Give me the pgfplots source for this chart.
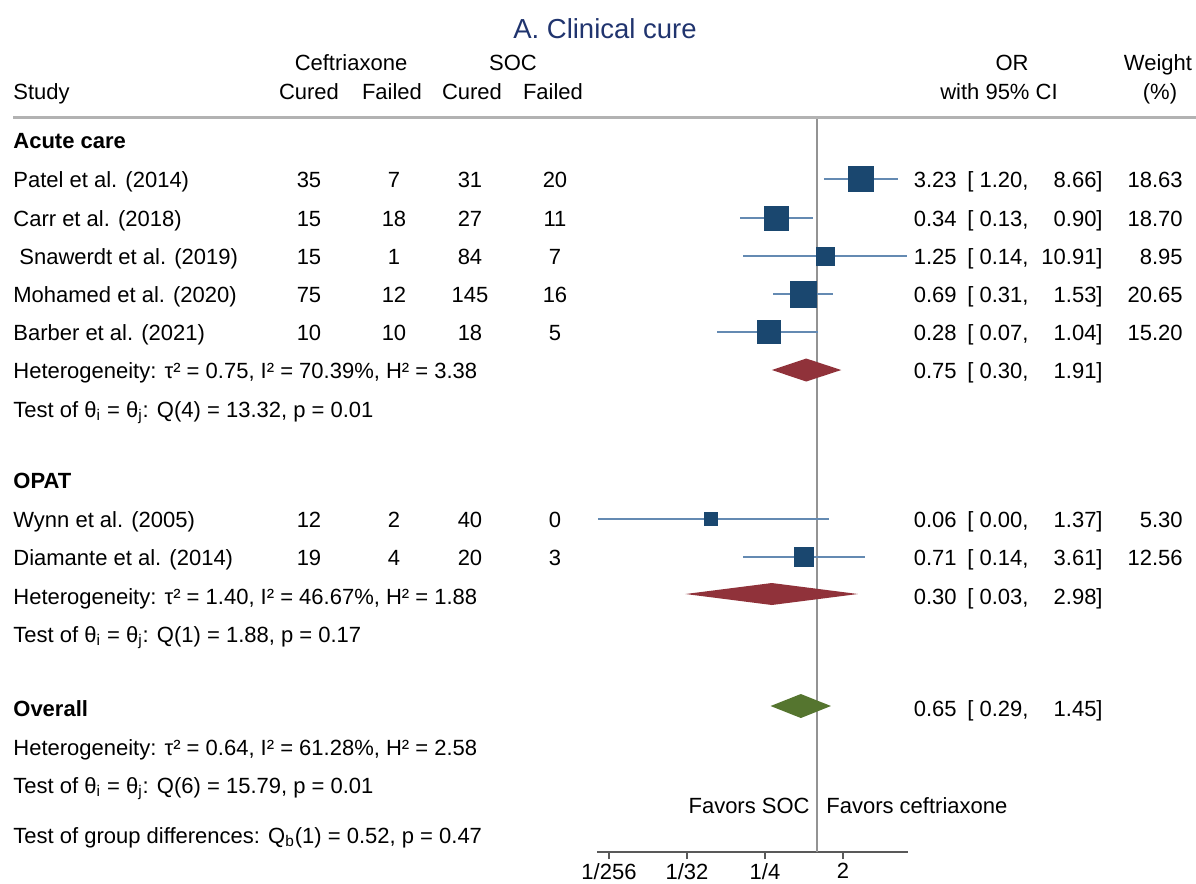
\documentclass[border=0pt]{standalone}
\usepackage{fontspec}
\setmainfont{Liberation Sans}
\usepackage{pgfplots}
\pgfplotsset{compat=1.18}
\definecolor{navy}{RGB}{26,71,111}
\definecolor{ciblue}{RGB}{100,138,178}
\definecolor{maroon}{RGB}{144,50,58}
\definecolor{fgreen}{RGB}{85,117,47}
\definecolor{titleblue}{RGB}{32,52,110}
% text helper: x, row centre y (pixels), anchor, text
\newcommand\T[4]{\node[anchor=#3, inner sep=0pt] at (#1,#2+8) {#4};}
\newcommand\cells[5]{\T{309}{#1}{base}{#2}\T{394}{#1}{base}{#3}\T{470}{#1}{base}{#4}\T{555}{#1}{base}{#5}}
\newcommand\orc[5]{\T{957}{#1}{base east}{#2}\T{967}{#1}{base west}{[ #3,}\T{1103}{#1}{base east}{#4]}\T{1183}{#1}{base east}{#5}}
% study: OR, lower, upper, row y, mark size
\newcommand\study[5]{%
  \addplot[ciblue, line width=1pt] coordinates {(#2,#4) (#3,#4)};
  \addplot[only marks, mark=square*, mark size=#5, color=navy, mark options={line width=0pt}] coordinates {(#1,#4)};
}
\begin{document}
\fontsize{11}{13}\selectfont
\begin{tikzpicture}[x=0.5pt,y=-0.5pt]
\path[use as bounding box] (0,0) rectangle (1196,884);
\begin{axis}[
  at={(298.5pt,-426pt)}, anchor=south west,
  scale only axis, width=155.5pt, height=366.5pt,
  xmode=log, log basis x=2,
  xmin=0.002837, xmax=11.314,
  ymin=119, ymax=852, y dir=reverse,
  axis x line*=bottom, axis y line=none,
  axis line style={black!65, line width=0.7pt},
  xtick={0.00390625,0.03125,0.25,2},
  xticklabels={1/256,1/32,1/4,2},
  tick align=outside, major tick length=3.5pt,
  tick style={black!65, line width=0.7pt},
  xticklabel style={font=\fontsize{11}{13}\selectfont, inner sep=2pt},
  clip=false,
]
\addplot[gray!85, line width=0.7pt] coordinates {(1,119) (1,852)};
\study{3.23}{1.20}{8.66}{179}{6.25pt}
\study{0.34}{0.13}{0.90}{218}{6pt}
\study{1.25}{0.14}{10.91}{256}{4.5pt}
\study{0.69}{0.31}{1.53}{294}{6.5pt}
\study{0.28}{0.07}{1.04}{332}{5.75pt}
\study{0.06}{0.0029}{1.37}{519}{3.25pt}
\study{0.71}{0.14}{3.61}{557}{4.75pt}
\addplot[fill=maroon, draw=none] coordinates {(0.30,370) (0.75,358.5) (1.91,370) (0.75,381.5)} -- cycle;
\addplot[fill=maroon, draw=none] coordinates {(0.03,594) (0.30,583) (2.98,594) (0.30,605)} -- cycle;
\addplot[fill=fgreen, draw=none] coordinates {(0.29,706) (0.65,694) (1.45,706) (0.65,718)} -- cycle;
\end{axis}
% title
\node[anchor=base, inner sep=0pt, font=\fontsize{13.75}{16}\selectfont, text=titleblue] at (605,38) {A. Clinical cure};
% headers
\T{351}{62}{base}{Ceftriaxone}
\T{513}{62}{base}{SOC}
\T{1012}{62}{base}{OR}
\T{1158}{62}{base}{Weight}
\T{13}{91}{base west}{Study}
\T{309}{91}{base}{Cured}
\T{392}{91}{base}{Failed}
\T{472}{91}{base}{Cured}
\T{553}{91}{base}{Failed}
\T{999}{91}{base}{with 95\% CI}
\T{1160}{91}{base}{(\%)}
\draw[gray!60, line width=1.5pt] (13,117) -- (1196,117);
% acute care
\T{13}{140}{base west}{\textbf{Acute care}}
\T{13}{179}{base west}{Patel et al. (2014)}\cells{179}{35}{7}{31}{20}\orc{179}{3.23}{1.20}{8.66}{18.63}
\T{13}{218}{base west}{Carr et al. (2018)}\cells{218}{15}{18}{27}{11}\orc{218}{0.34}{0.13}{0.90}{18.70}
\T{19}{256}{base west}{Snawerdt et al. (2019)}\cells{256}{15}{1}{84}{7}\orc{256}{1.25}{0.14}{10.91}{8.95}
\T{13}{294}{base west}{Mohamed et al. (2020)}\cells{294}{75}{12}{145}{16}\orc{294}{0.69}{0.31}{1.53}{20.65}
\T{13}{332}{base west}{Barber et al. (2021)}\cells{332}{10}{10}{18}{5}\orc{332}{0.28}{0.07}{1.04}{15.20}
\T{13}{370}{base west}{Heterogeneity: τ² = 0.75, I² = 70.39\%, H² = 3.38}
\T{957}{370}{base east}{0.75}\T{967}{370}{base west}{[ 0.30,}\T{1103}{370}{base east}{1.91]}
\T{13}{409}{base west}{Test of θ\textsubscript{i} = θ\textsubscript{j}: Q(4) = 13.32, p = 0.01}
% OPAT
\T{13}{480}{base west}{\textbf{OPAT}}
\T{13}{519}{base west}{Wynn et al. (2005)}\cells{519}{12}{2}{40}{0}\orc{519}{0.06}{0.00}{1.37}{5.30}
\T{13}{557}{base west}{Diamante et al. (2014)}\cells{557}{19}{4}{20}{3}\orc{557}{0.71}{0.14}{3.61}{12.56}
\T{13}{596}{base west}{Heterogeneity: τ² = 1.40, I² = 46.67\%, H² = 1.88}
\T{957}{596}{base east}{0.30}\T{967}{596}{base west}{[ 0.03,}\T{1103}{596}{base east}{2.98]}
\T{13}{634}{base west}{Test of θ\textsubscript{i} = θ\textsubscript{j}: Q(1) = 1.88, p = 0.17}
% overall
\T{13}{708}{base west}{\textbf{Overall}}
\T{957}{708}{base east}{0.65}\T{967}{708}{base west}{[ 0.29,}\T{1103}{708}{base east}{1.45]}
\T{13}{747}{base west}{Heterogeneity: τ² = 0.64, I² = 61.28\%, H² = 2.58}
\T{13}{785}{base west}{Test of θ\textsubscript{i} = θ\textsubscript{j}: Q(6) = 15.79, p = 0.01}
\T{13}{835}{base west}{Test of group differences: Q\textsubscript{b}(1) = 0.52, p = 0.47}
\T{810}{805}{base east}{Favors SOC}
\T{826}{805}{base west}{Favors ceftriaxone}
\end{tikzpicture}
\end{document}
